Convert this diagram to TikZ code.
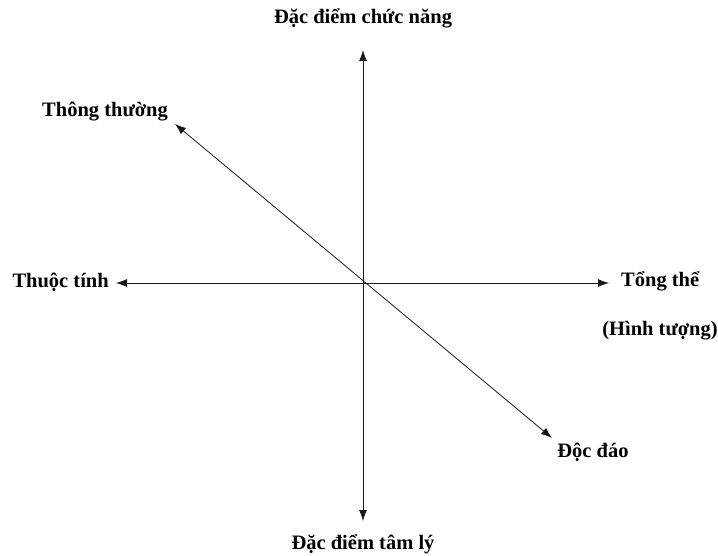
\documentclass[tikz,border=0pt]{standalone}
\usepackage{fontspec}
\setmainfont{Liberation Serif}
\usetikzlibrary{arrows.meta, positioning}

\begin{document}
\begin{tikzpicture}[
        x=1pt, y=-1pt,
        every node/.style={font=\fontsize{20.5}{24}\selectfont\bfseries, inner sep=0pt},
        axis/.style={<->, >={Latex[length=11pt, width=8pt]}, line width=0.8pt, color=black!90}
        ]
        \useasboundingbox (0,0) rectangle (718,555);

        % ends of the axes
        \coordinate (o) at (363, 283);
        \coordinate (up) at (363, 50);
        \coordinate (down) at (363, 521);
        \coordinate (left) at (116, 283);
        \coordinate (right) at (609, 283);
        \coordinate (nw) at (175, 124);
        \coordinate (se) at (552, 438);

        % labels
        \node (chucnang) at (363, 18) {Đặc điểm chức năng};
        \node (tamly) at (363, 544) {Đặc điểm tâm lý};
        \node[anchor=east] (thuoctinh) at (109, 282) {Thuộc tính};
        \node[anchor=west] (tongthe) at (621, 281) {Tổng thể};
        \node (hinhtuong) at (660, 331) {(Hình tượng)};
        \node (thongthuong) at (105, 112) {Thông thường};
        \node (docdao) at (593, 452) {Độc đáo};

        \draw[axis] (down) -- (up);
        \draw[axis] (left) -- (right);
        \draw[axis] (nw) -- (se);
    \end{tikzpicture}
\end{document}
